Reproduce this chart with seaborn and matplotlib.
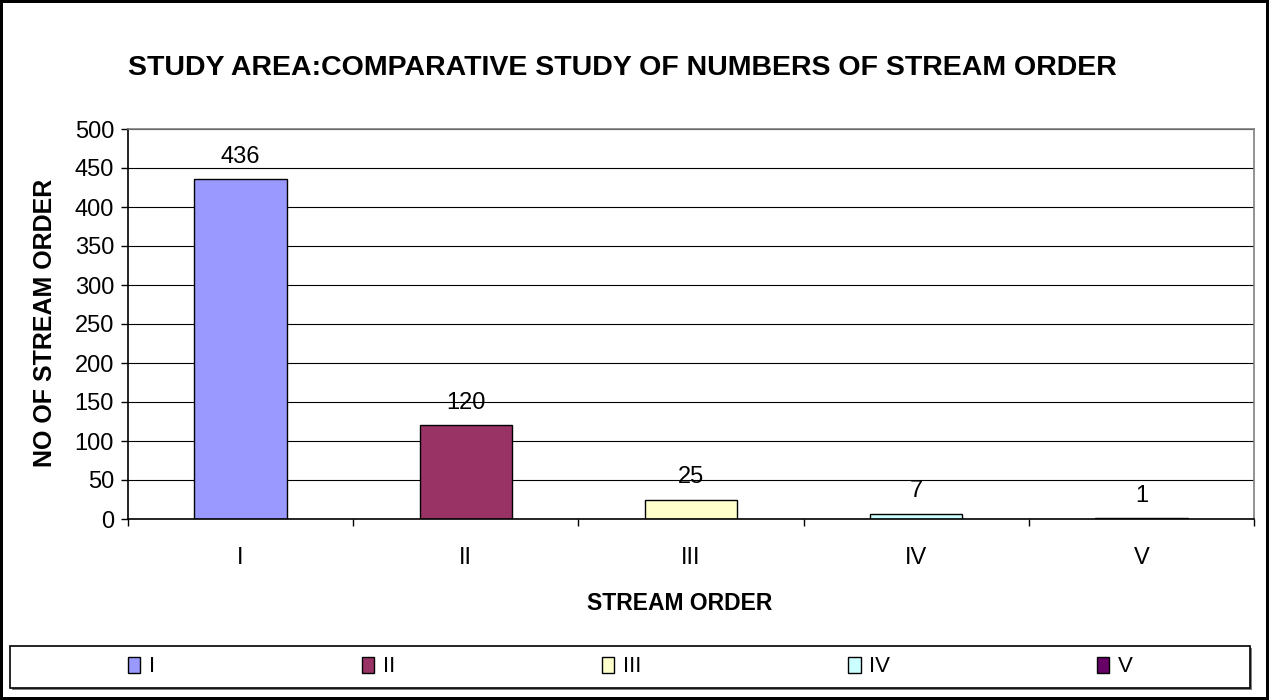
import matplotlib
matplotlib.use("Agg")
import matplotlib.pyplot as plt
import seaborn as sns
import pandas as pd
from matplotlib.patches import Rectangle

# Datos del gráfico
orders = ['I', 'II', 'III', 'IV', 'V']
counts = [436, 120, 25, 7, 1]
colores = ['#9999FF', '#993366', '#FFFFCC', '#CCFFFF', '#660066']
y_ticks = list(range(0, 501, 50))

df = pd.DataFrame({'Stream order': orders, 'Numero': counts})

sns.set_theme(style="white")
plt.rcParams['font.family'] = ['Liberation Sans', 'DejaVu Sans']
plt.rcParams['text.color'] = 'black'

fig = plt.figure(figsize=(12.69, 7), dpi=100)
fig.patch.set_edgecolor('black')
fig.patch.set_linewidth(3)
ax = fig.add_axes([128/1269, 1 - 519/700, (1254 - 128)/1269, (519 - 129)/700])

barplot = sns.barplot(data=df, x='Stream order', y='Numero', hue='Stream order',
                      palette=colores, saturation=1, edgecolor='black', linewidth=1.0,
                      width=0.41, legend=True, ax=ax)

# Ejes
ax.set_ylim(0, 500)
ax.set_xlim(-0.5, 4.5)
ax.set_yticks(y_ticks)
ax.yaxis.grid(True, color='black', linewidth=0.8)
ax.set_axisbelow(True)
ax.set_xlabel('')
ax.set_ylabel('')
ax.tick_params(axis='y', which='major', left=True, length=5, width=1, color='black',
               labelsize=17, pad=5, labelcolor='black')
ax.tick_params(axis='x', which='major', length=0, labelsize=17, pad=20, labelcolor='black')
ax.set_xticks([i + 0.5 for i in range(-1, 5)], minor=True)
ax.tick_params(axis='x', which='minor', bottom=True, length=5, width=1, color='black')
for s in ['left', 'bottom']:
    ax.spines[s].set_color('black')
    ax.spines[s].set_linewidth(1.2)
for s in ['top', 'right']:
    ax.spines[s].set_color('#808080')
    ax.spines[s].set_linewidth(1.2)

# Etiquetas de datos
for c in ax.containers:
    ax.bar_label(c, fontsize=17, padding=8, color='black')

# Títulos
fig.text(0.4905, 1 - 68/700, 'STUDY AREA:COMPARATIVE STUDY OF NUMBERS OF STREAM ORDER',
         ha='center', va='center', fontsize=20.5, fontweight='bold')
fig.text(680/1269, 1 - 604/700, 'STREAM ORDER', ha='center', va='center',
         fontsize=16.5, fontweight='bold')
fig.text(45/1269, 1 - 323/700, 'NO OF STREAM ORDER', ha='center', va='center',
         rotation=90, fontsize=18, fontweight='bold')

# Leyenda
handles, labels = ax.get_legend_handles_labels()
ax.get_legend().remove()
fig.patches.append(Rectangle((12/1269, 1 - 690/700), 1240/1269, 42/700,
                             transform=fig.transFigure, facecolor='#808080',
                             edgecolor='none', zorder=0))
fig.patches.append(Rectangle((10/1269, 1 - 688/700), 1240/1269, 42/700,
                             transform=fig.transFigure, facecolor='white',
                             edgecolor='black', linewidth=1.2, zorder=1))
leg = fig.legend(handles, labels, loc='center', bbox_to_anchor=(0.497, 1 - 667/700),
                 ncol=5, frameon=False, fontsize=16, handlelength=0.55,
                 handleheight=0.75, handletextpad=0.4, columnspacing=9.3)
for h in leg.legend_handles:
    h.set_edgecolor('black')

fig.savefig('out.png', dpi=100)
